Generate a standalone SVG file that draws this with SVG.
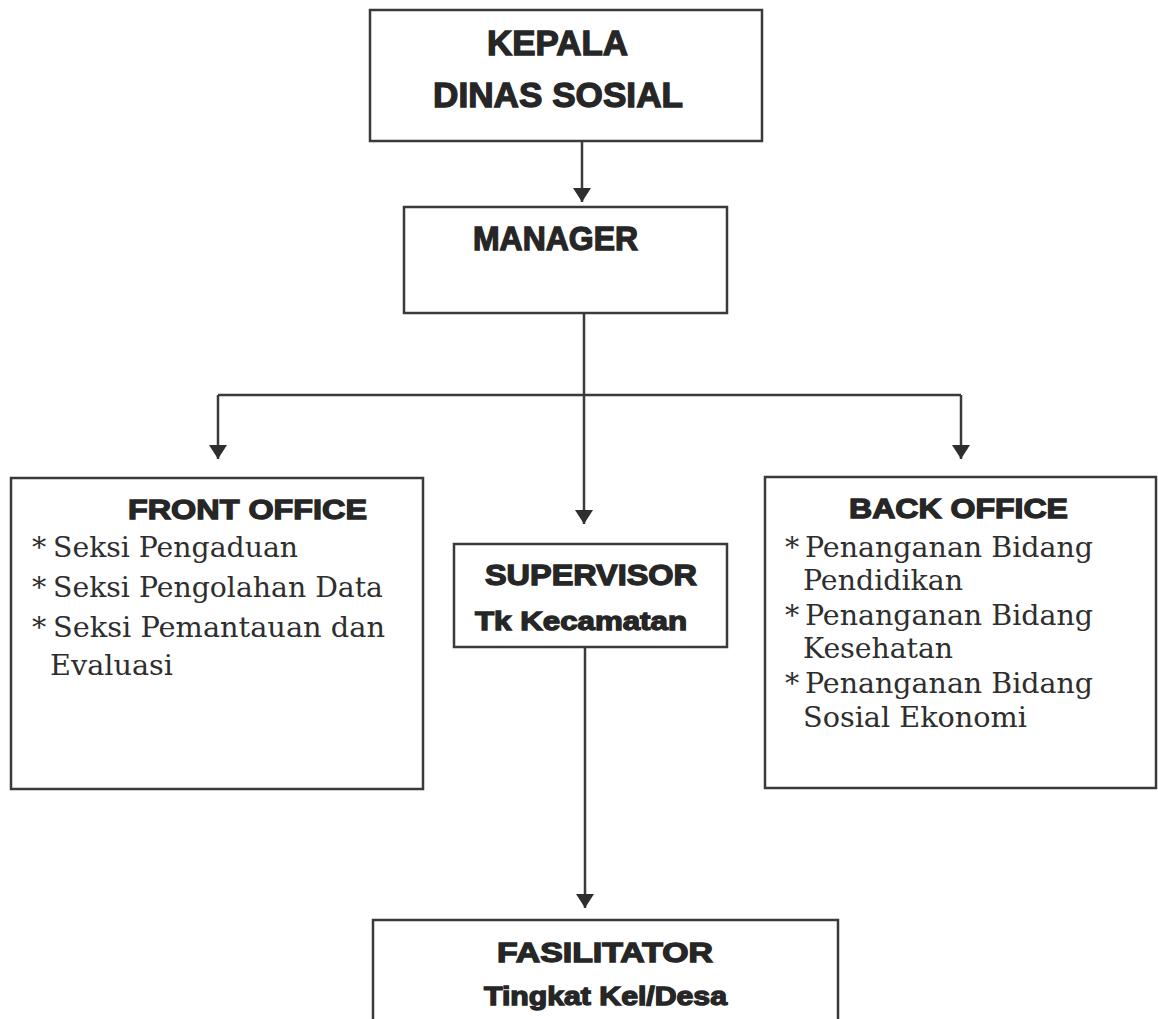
<svg xmlns="http://www.w3.org/2000/svg" width="1158" height="1019" viewBox="0 0 1158 1019">
<style>
.box{fill:#ffffff;stroke:#3a3a3a;stroke-width:2.5}
.con{fill:none;stroke:#3a3a3a;stroke-width:2.5}
.h{font-family:"Liberation Sans",Arial,sans-serif;font-weight:bold;fill:#262626;stroke:#262626;stroke-width:1.3}
.s{font-family:"DejaVu Serif","Liberation Serif",serif;font-size:28.5px;fill:#2e2e2e}
</style>
<defs>
<marker id="arr" markerUnits="userSpaceOnUse" markerWidth="15" markerHeight="18" refX="14" refY="9" orient="auto">
<path d="M0,0 L14,9 L0,18 z" fill="#2e2e2e"/>
</marker>
</defs>
<rect width="1158" height="1019" fill="#ffffff"/>
<g id="connectors">
<line class="con" x1="582" y1="141" x2="582" y2="202" marker-end="url(#arr)"/>
<line class="con" x1="584" y1="313" x2="584" y2="395"/>
<line class="con" x1="218" y1="395" x2="961" y2="395"/>
<line class="con" x1="218" y1="395" x2="218" y2="459" marker-end="url(#arr)"/>
<line class="con" x1="961" y1="395" x2="961" y2="459" marker-end="url(#arr)"/>
<line class="con" x1="584" y1="395" x2="584" y2="524" marker-end="url(#arr)"/>
<line class="con" x1="585" y1="647" x2="585" y2="908" marker-end="url(#arr)"/>
</g>
<g id="kepala">
<rect class="box" x="370" y="10" width="392" height="131"/>
<text class="h" x="487" y="55" font-size="35" textLength="141" lengthAdjust="spacingAndGlyphs">KEPALA</text>
<text class="h" x="433" y="107" font-size="35" textLength="250" lengthAdjust="spacingAndGlyphs">DINAS SOSIAL</text>
</g>
<g id="manager">
<rect class="box" x="404" y="207" width="323" height="106"/>
<text class="h" x="473" y="250" font-size="33" textLength="165" lengthAdjust="spacingAndGlyphs">MANAGER</text>
</g>
<g id="front-office">
<rect class="box" x="11" y="478" width="412" height="311"/>
<text class="h" x="128" y="519" font-size="28" textLength="239" lengthAdjust="spacingAndGlyphs">FRONT OFFICE</text>
<text class="s" x="32" y="557">*</text>
<text class="s" x="53" y="557" textLength="245" lengthAdjust="spacingAndGlyphs">Seksi Pengaduan</text>
<text class="s" x="32" y="597">*</text>
<text class="s" x="53" y="597" textLength="330" lengthAdjust="spacingAndGlyphs">Seksi Pengolahan Data</text>
<text class="s" x="32" y="637">*</text>
<text class="s" x="53" y="637" textLength="332" lengthAdjust="spacingAndGlyphs">Seksi Pemantauan dan</text>
<text class="s" x="50" y="675" textLength="123" lengthAdjust="spacingAndGlyphs">Evaluasi</text>
</g>
<g id="supervisor">
<rect class="box" x="454" y="544" width="273" height="103"/>
<text class="h" x="485" y="585" font-size="29" textLength="212" lengthAdjust="spacingAndGlyphs">SUPERVISOR</text>
<text class="h" x="475" y="630" font-size="26" textLength="212" lengthAdjust="spacingAndGlyphs">Tk Kecamatan</text>
</g>
<g id="back-office">
<rect class="box" x="765" y="477" width="391" height="311"/>
<text class="h" x="849" y="518" font-size="28" textLength="219" lengthAdjust="spacingAndGlyphs">BACK OFFICE</text>
<text class="s" x="785" y="557">*</text>
<text class="s" x="805" y="557" textLength="288" lengthAdjust="spacingAndGlyphs">Penanganan Bidang</text>
<text class="s" x="803" y="590" textLength="160" lengthAdjust="spacingAndGlyphs">Pendidikan</text>
<text class="s" x="785" y="625">*</text>
<text class="s" x="805" y="625" textLength="288" lengthAdjust="spacingAndGlyphs">Penanganan Bidang</text>
<text class="s" x="803" y="658" textLength="150" lengthAdjust="spacingAndGlyphs">Kesehatan</text>
<text class="s" x="785" y="693">*</text>
<text class="s" x="805" y="693" textLength="288" lengthAdjust="spacingAndGlyphs">Penanganan Bidang</text>
<text class="s" x="803" y="727" textLength="224" lengthAdjust="spacingAndGlyphs">Sosial Ekonomi</text>
</g>
<g id="fasilitator">
<rect class="box" x="373" y="920" width="465" height="130"/>
<text class="h" x="497" y="962" font-size="27" textLength="216" lengthAdjust="spacingAndGlyphs">FASILITATOR</text>
<text class="h" x="484" y="1005" font-size="25" textLength="243" lengthAdjust="spacingAndGlyphs">Tingkat Kel/Desa</text>
</g>
</svg>
